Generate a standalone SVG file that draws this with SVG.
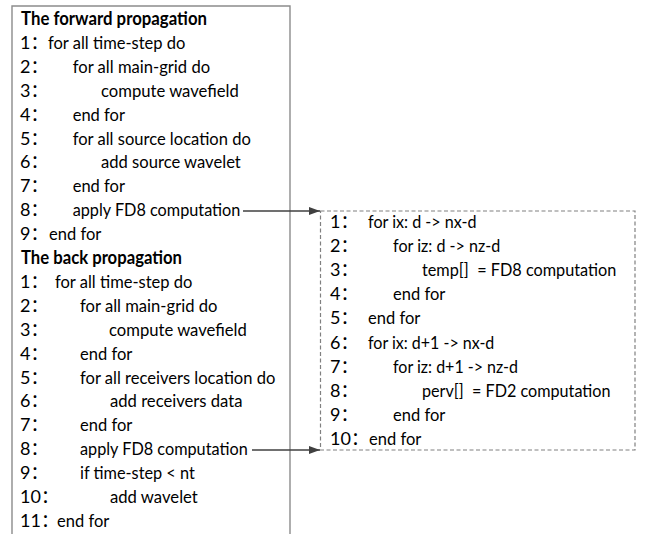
<svg xmlns="http://www.w3.org/2000/svg" width="646" height="534" viewBox="0 0 646 534">
<style>
text{font-family:Lato,"Noto Sans CJK SC",sans-serif;font-size:18px;fill:#000;white-space:pre}
.b{font-weight:bold}
.box{fill:none;stroke:#8c8c8c;stroke-width:1.4}
.dash{fill:none;stroke:#808080;stroke-width:1.2;stroke-dasharray:4 2.5}
.arr{fill:none;stroke:#404040;stroke-width:1.5}
</style>
<defs>
<marker id="ah" markerWidth="12" markerHeight="10" refX="11" refY="5" orient="auto" markerUnits="userSpaceOnUse">
<path d="M0,1 L11,5 L0,9 Z" fill="#404040"/>
</marker>
</defs>
<g id="left-box">
<path class="box" d="M12,534 V6 H290 V534"/>
<text class="b" x="21" y="25" textLength="186" lengthAdjust="spacingAndGlyphs">The forward propagation</text>
<text x="20" y="48.9">1：</text><text x="48" y="48.9" textLength="137.4" lengthAdjust="spacingAndGlyphs">for all time-step do</text>
<text x="20" y="72.8">2：</text><text x="72.7" y="72.8" textLength="137.4" lengthAdjust="spacingAndGlyphs">for all main-grid do</text>
<text x="20" y="96.7">3：</text><text x="101" y="96.7" textLength="137.8" lengthAdjust="spacingAndGlyphs">compute wavefield</text>
<text x="20" y="120.6">4：</text><text x="72.7" y="120.6" textLength="52.3" lengthAdjust="spacingAndGlyphs">end for</text>
<text x="20" y="144.5">5：</text><text x="72.7" y="144.5" textLength="178.1" lengthAdjust="spacingAndGlyphs">for all source location do</text>
<text x="20" y="168.4">6：</text><text x="101" y="168.4" textLength="139.8" lengthAdjust="spacingAndGlyphs">add source wavelet</text>
<text x="20" y="192.3">7：</text><text x="72.7" y="192.3" textLength="52.3" lengthAdjust="spacingAndGlyphs">end for</text>
<text x="20" y="216.2">8：</text><text x="72.7" y="216.2" textLength="167.7" lengthAdjust="spacingAndGlyphs">apply FD8 computation</text>
<text x="20" y="240.1">9：</text><text x="49" y="240.1" textLength="52.3" lengthAdjust="spacingAndGlyphs">end for</text>
<text class="b" x="21" y="264" textLength="161" lengthAdjust="spacingAndGlyphs">The back propagation</text>
<text x="20" y="287.9">1：</text><text x="55" y="287.9" textLength="137.4" lengthAdjust="spacingAndGlyphs">for all time-step do</text>
<text x="20" y="311.8">2：</text><text x="80" y="311.8" textLength="137.4" lengthAdjust="spacingAndGlyphs">for all main-grid do</text>
<text x="20" y="335.7">3：</text><text x="109" y="335.7" textLength="137.8" lengthAdjust="spacingAndGlyphs">compute wavefield</text>
<text x="20" y="359.6">4：</text><text x="80" y="359.6" textLength="52.3" lengthAdjust="spacingAndGlyphs">end for</text>
<text x="20" y="383.5">5：</text><text x="80" y="383.5" textLength="195.3" lengthAdjust="spacingAndGlyphs">for all receivers location do</text>
<text x="20" y="407.4">6：</text><text x="110" y="407.4" textLength="132.5" lengthAdjust="spacingAndGlyphs">add receivers data</text>
<text x="20" y="431.3">7：</text><text x="80" y="431.3" textLength="52.3" lengthAdjust="spacingAndGlyphs">end for</text>
<text x="20" y="455.2">8：</text><text x="80" y="455.2" textLength="167.7" lengthAdjust="spacingAndGlyphs">apply FD8 computation</text>
<text x="20" y="479.1">9：</text><text x="80" y="479.1" textLength="114.8" lengthAdjust="spacingAndGlyphs">if time-step &lt; nt</text>
<text x="20" y="503">10：</text><text x="110" y="503" textLength="87.8" lengthAdjust="spacingAndGlyphs">add wavelet</text>
<text x="20" y="526.9">11：</text><text x="57" y="526.9" textLength="52.3" lengthAdjust="spacingAndGlyphs">end for</text>
</g>
<g id="right-box">
<rect class="dash" x="320.5" y="211" width="314.5" height="239"/>
<text x="330" y="228">1：</text><text x="368" y="228" textLength="108.6" lengthAdjust="spacingAndGlyphs">for ix: d -&gt; nx-d</text>
<text x="330" y="252.1">2：</text><text x="393" y="252.1" textLength="107.2" lengthAdjust="spacingAndGlyphs">for iz: d -&gt; nz-d</text>
<text x="330" y="276.2">3：</text><text x="422" y="276.2" textLength="194.4" lengthAdjust="spacingAndGlyphs">temp[]  = FD8 computation</text>
<text x="330" y="300.3">4：</text><text x="393" y="300.3" textLength="52.3" lengthAdjust="spacingAndGlyphs">end for</text>
<text x="330" y="324.4">5：</text><text x="368" y="324.4" textLength="52.3" lengthAdjust="spacingAndGlyphs">end for</text>
<text x="330" y="348.5">6：</text><text x="368" y="348.5" textLength="126.3" lengthAdjust="spacingAndGlyphs">for ix: d+1 -&gt; nx-d</text>
<text x="330" y="372.6">7：</text><text x="393" y="372.6" textLength="125" lengthAdjust="spacingAndGlyphs">for iz: d+1 -&gt; nz-d</text>
<text x="330" y="396.7">8：</text><text x="422" y="396.7" textLength="188.5" lengthAdjust="spacingAndGlyphs">perv[]  = FD2 computation</text>
<text x="330" y="420.8">9：</text><text x="393" y="420.8" textLength="52.3" lengthAdjust="spacingAndGlyphs">end for</text>
<text x="330" y="444.9">10：</text><text x="369" y="444.9" textLength="52.3" lengthAdjust="spacingAndGlyphs">end for</text>
</g>
<g id="connectors">
<line class="arr" x1="243" y1="211" x2="320" y2="211" marker-end="url(#ah)"/>
<line class="arr" x1="252" y1="450" x2="320" y2="450" marker-end="url(#ah)"/>
</g>
</svg>
